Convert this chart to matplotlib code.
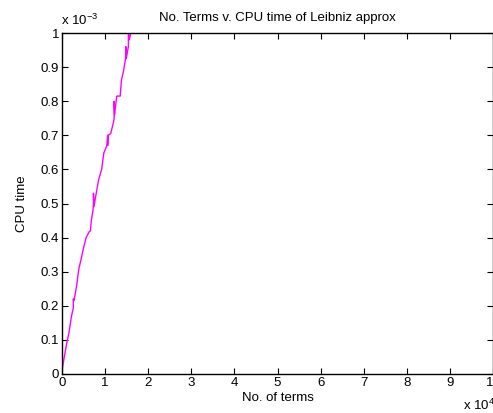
import numpy as np
import matplotlib
matplotlib.use("Agg")
import matplotlib.pyplot as plt

# number of terms and cpu time (s)
terms = [0, 0, 0, 400, 1090, 1600, 2200, 2620, 2620, 2750, 3000, 3400,
         3900, 4400, 5000, 5600, 6300, 6600, 6800, 7200, 7300, 7300, 7400,
         7800, 8500, 9200, 9700, 10400, 10600, 10600, 10700, 11300, 11900,
         12100, 12100, 12200, 12700, 13500, 13800, 14300, 14800, 14800,
         14900, 15400, 15400, 15600, 16500, 20000, 30000]
cpu_time = [0.24e-3, 0.0, 0.01e-3, 0.04e-3, 0.09e-3, 0.12e-3, 0.17e-3,
            0.193e-3, 0.22e-3, 0.215e-3, 0.23e-3, 0.26e-3, 0.308e-3,
            0.335e-3, 0.37e-3, 0.40e-3, 0.417e-3, 0.42e-3, 0.45e-3,
            0.48e-3, 0.50e-3, 0.53e-3, 0.49e-3, 0.52e-3, 0.57e-3, 0.60e-3,
            0.648e-3, 0.67e-3, 0.70e-3, 0.67e-3, 0.70e-3, 0.705e-3,
            0.736e-3, 0.75e-3, 0.80e-3, 0.76e-3, 0.815e-3, 0.815e-3,
            0.862e-3, 0.89e-3, 0.93e-3, 0.96e-3, 0.925e-3, 0.96e-3, 1.0e-3,
            0.98e-3, 1.03e-3, 1.25e-3, 1.9e-3]

xticks = np.arange(0, 11)
yticks = np.round(np.arange(0, 1.01, 0.1), 1)

plt.rcParams['font.family'] = ['Liberation Sans', 'DejaVu Sans']
plt.rcParams['font.size'] = 9.5

fig = plt.figure(figsize=(4.93, 4.13), dpi=100)
ax = fig.add_axes([62/493, 39/413, 431/493, 341/413])
ax.plot(terms, cpu_time, color='#ff00ff', lw=1.0)
ax.set_xlim(0, 1e5)
ax.set_ylim(0, 1e-3)
ax.set_xticks(xticks * 1e4)
ax.set_xticklabels([str(t) for t in xticks])
ax.set_yticks(yticks * 1e-3)
ax.set_yticklabels(['0'] + ['%g' % t for t in yticks[1:]])
ax.tick_params(direction='in', top=True, right=True, length=4, width=0.8,
               pad=2)
for s in ax.spines.values():
    s.set_linewidth(1.0)

ax.set_title('No. Terms v. CPU time of Leibniz approx', fontsize=9.5, pad=9)
ax.set_xlabel('No. of terms', labelpad=2)
ax.set_ylabel('CPU time', labelpad=9)
fig.text(61/493, 1 - 25/413, r'x 10$^{\mathregular{-3}}$', fontsize=9.5,
         ha='left', va='baseline')
fig.text(463/493, 1 - 410/413, r'x 10$^{\mathregular{4}}$', fontsize=9.5,
         ha='left', va='baseline')

fig.savefig('out.png', dpi=100)
